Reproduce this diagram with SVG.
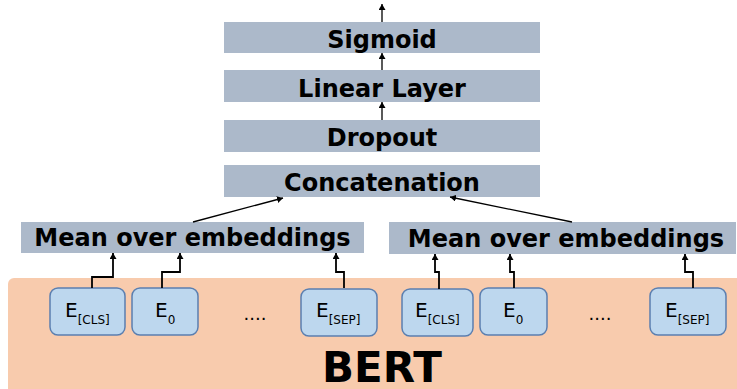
<svg xmlns="http://www.w3.org/2000/svg" width="737" height="389" viewBox="0 0 737 389">
<defs>
<marker id="ah" markerWidth="6" markerHeight="7" refX="6" refY="3.5" orient="auto" markerUnits="userSpaceOnUse">
<path d="M0,0 L6,3.5 L0,7 Z" fill="#000"/>
</marker>
<style>
.layer{fill:#acb9ca;}
.lt{font-family:"DejaVu Sans",Verdana,sans-serif;font-weight:bold;font-size:24px;fill:#000;text-anchor:middle;}
.emb{fill:#bdd7ee;stroke:#5b7fb0;stroke-width:1.5;}
.et{font-family:"DejaVu Sans",sans-serif;font-size:20px;fill:#000;}
.sub{font-size:12px;}
.dots{font-family:"DejaVu Sans",sans-serif;font-size:18px;fill:#000;text-anchor:middle;}
.c{fill:none;stroke:#000;stroke-width:1.3;marker-end:url(#ah);}
.cb{fill:none;stroke:#000;stroke-width:1.8;marker-end:url(#ah);}
</style>
</defs>
<g id="bert">
<rect x="8" y="278" width="740" height="120" rx="6" fill="#f8cbad"/>
<text x="382" y="382" font-family="DejaVu Sans,sans-serif" font-weight="bold" font-size="42" text-anchor="middle">BERT</text>
</g>
<g id="sigmoid"><rect class="layer" x="224" y="22" width="316" height="31"/><text class="lt" x="382" y="48">Sigmoid</text></g>
<g id="linear"><rect class="layer" x="224" y="70" width="316" height="32"/><text class="lt" x="382" y="97">Linear Layer</text></g>
<g id="dropout"><rect class="layer" x="224" y="120" width="316" height="32"/><text class="lt" x="382" y="146">Dropout</text></g>
<g id="concat"><rect class="layer" x="224" y="165" width="316" height="32"/><text class="lt" x="382" y="191">Concatenation</text></g>
<g id="mean-left"><rect class="layer" x="21" y="222" width="343" height="31"/><text class="lt" x="192.5" y="246" font-size="24.4">Mean over embeddings</text></g>
<g id="mean-right"><rect class="layer" x="389" y="222" width="347" height="32"/><text class="lt" x="566" y="247" font-size="24.4">Mean over embeddings</text></g>
<g id="e-cls-1"><rect class="emb" x="50" y="288" width="75" height="47" rx="8"/><text class="et" x="65" y="317">E<tspan class="sub" dy="7">[CLS]</tspan></text></g>
<g id="e0-1"><rect class="emb" x="132" y="288" width="66" height="47" rx="8"/><text class="et" x="155" y="317">E<tspan class="sub" dy="7">0</tspan></text></g>
<text class="dots" x="255" y="320">....</text>
<g id="e-sep-1"><rect class="emb" x="301" y="289" width="76" height="47" rx="8"/><text class="et" x="316" y="317">E<tspan class="sub" dy="7">[SEP]</tspan></text></g>
<g id="e-cls-2"><rect class="emb" x="402" y="289" width="71" height="47" rx="8"/><text class="et" x="415" y="317">E<tspan class="sub" dy="7">[CLS]</tspan></text></g>
<g id="e0-2"><rect class="emb" x="480" y="288" width="67" height="47" rx="8"/><text class="et" x="503" y="317">E<tspan class="sub" dy="7">0</tspan></text></g>
<text class="dots" x="600" y="320">....</text>
<g id="e-sep-2"><rect class="emb" x="650" y="288" width="76" height="47" rx="8"/><text class="et" x="665" y="317">E<tspan class="sub" dy="7">[SEP]</tspan></text></g>
<g id="connectors">
<path class="c" d="M382,22 V4"/>
<path class="c" d="M382,70 V53"/>
<path class="c" d="M382,120 V102"/>
<path class="c" d="M193,222 L283,198"/>
<path class="c" d="M572,222 L450,197"/>
<path class="cb" d="M92,288 V277 H113 V253"/>
<path class="cb" d="M162,288 V272 H180 V253"/>
<path class="cb" d="M344,288 V272 H336 V253"/>
<path class="cb" d="M439,289 V272 H435 V254"/>
<path class="cb" d="M514,288 V272 H510 V254"/>
<path class="cb" d="M693,288 V272 H685 V254"/>
</g>
</svg>
